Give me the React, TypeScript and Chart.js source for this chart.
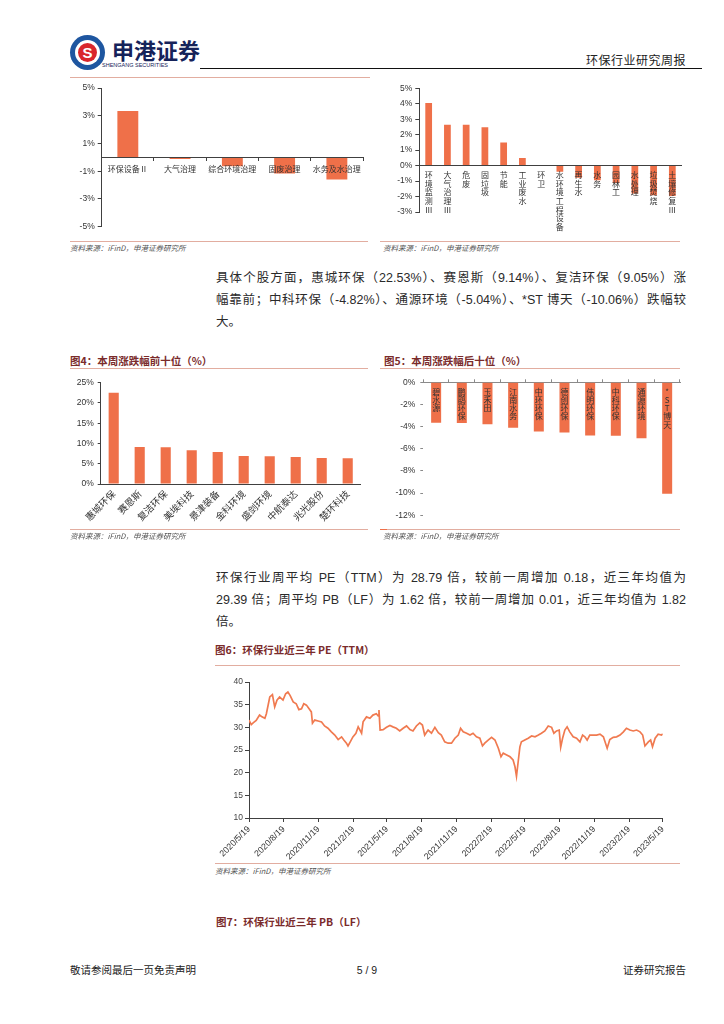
import React, { useEffect, useRef } from 'react';
import { Chart, registerables } from 'chart.js';

Chart.register(...registerables);

// ---------- data ----------
const A_LABELS = ['环保设备Ⅱ', '大气治理', '综合环境治理', '固废治理', '水务及水治理'];
const A_VALUES = [3.35, -0.12, -0.65, -1.17, -1.6];

const B_LABELS = ['环境监测Ⅲ', '大气治理Ⅲ', '危废', '固垃圾', '节能', '工业废水', '环卫', '水环境工程设备', '再生水', '水务', '园林工', '水处理', '垃圾焚烧', '土壤修复Ⅲ'];
const B_VALUES = [4.05, 2.65, 2.65, 2.48, 1.5, 0.5, 0, -0.39, -0.78, -0.95, -1.12, -1.8, -1.92, -1.96];

const C_LABELS = ['惠城环保', '赛恩斯', '复洁环保', '美埃科技', '景津装备', '金科环境', '盛剑环境', '中航泰达', '兆光股份', '楚环科技'];
const C_VALUES = [22.53, 9.14, 9.05, 8.3, 7.9, 6.9, 6.85, 6.66, 6.41, 6.38];

const D_LABELS = ['碧水源', '鹏鹞环保', '玉禾田', '江南水务', '中环环保', '德创环保', '伟明环保', '中科环保', '通源环境', '*ST博天'];
const D_VALUES = [-3.64, -3.67, -3.79, -4.09, -4.45, -4.52, -4.79, -4.82, -5.04, -10.06];

const PE_START = '2020/5/19';
const PE_TICK_LABELS = ['2020/5/19', '2020/8/19', '2020/11/19', '2021/2/19', '2021/5/19', '2021/8/19', '2021/11/19', '2022/2/19', '2022/5/19', '2022/8/19', '2022/11/19', '2023/2/19', '2023/5/19'];
// days since 2020/5/19
const PE_DAYS = [0, 6, 11, 19, 28, 33, 42, 46, 55, 62, 68, 74, 81, 90, 97, 103, 109, 117, 125, 132, 139, 145, 152, 159, 165, 168, 174, 183, 192, 200, 209, 218, 227, 236, 245, 251, 258, 262, 268, 275, 283, 289, 293, 298, 302, 311, 320, 328, 337, 342, 344, 347, 355, 364, 373, 381, 390, 399, 408, 417, 426, 434, 443, 452, 459, 465, 474, 483, 492, 501, 509, 518, 527, 536, 545, 554, 560, 567, 576, 585, 593, 602, 611, 618, 624, 633, 642, 651, 660, 667, 673, 682, 691, 699, 704, 708, 713, 717, 721, 730, 739, 748, 757, 766, 774, 783, 792, 801, 807, 814, 821, 825, 830, 836, 842, 849, 858, 867, 876, 883, 889, 895, 902, 911, 920, 929, 938, 948, 955, 964, 973, 982, 991, 999, 1008, 1017, 1026, 1035, 1042, 1048, 1057, 1063, 1068, 1075, 1083, 1092, 1095];
const PE_VALUES = [31.6, 30.6, 31.0, 31.5, 32.7, 32.4, 32.0, 33.0, 36.7, 37.2, 34.5, 36.0, 36.7, 36.0, 37.4, 37.8, 37.0, 35.6, 35.2, 33.9, 34.1, 35.2, 34.9, 34.1, 33.4, 30.9, 31.6, 31.4, 31.2, 30.3, 29.8, 29.0, 28.3, 27.3, 27.9, 27.2, 26.5, 25.9, 26.8, 27.9, 28.7, 30.1, 29.5, 28.7, 31.2, 32.3, 32.0, 32.7, 33.0, 32.5, 33.8, 29.4, 29.5, 30.0, 30.4, 30.1, 29.8, 29.2, 29.8, 30.3, 29.5, 29.2, 30.3, 31.0, 30.5, 28.3, 29.4, 28.7, 30.0, 28.8, 28.3, 26.8, 26.5, 26.5, 27.6, 28.3, 29.8, 29.0, 28.7, 28.3, 28.7, 27.9, 27.6, 25.9, 26.5, 27.2, 27.8, 27.2, 25.4, 23.5, 24.3, 23.9, 23.5, 22.8, 21.3, 19.2, 22.8, 25.7, 26.8, 27.2, 27.6, 28.1, 27.9, 28.3, 28.7, 29.2, 30.3, 30.0, 28.7, 29.2, 29.4, 25.6, 27.6, 29.4, 30.1, 29.0, 27.9, 27.6, 26.8, 28.3, 27.9, 27.2, 28.3, 28.3, 28.3, 28.5, 27.9, 25.4, 27.3, 27.8, 27.9, 28.3, 29.0, 29.8, 29.4, 29.2, 29.4, 29.0, 28.3, 25.9, 26.8, 27.2, 25.7, 27.6, 28.5, 28.3, 28.6];

// ---------- styles ----------
const LAT = "'Liberation Sans', 'Noto Sans CJK SC', sans-serif";
const CJK = "'Noto Sans CJK SC', 'Liberation Sans', sans-serif";
const BAR = '#EF7049';
const LINE = '#F07A50';
const AXIS = '#404040';
const TXT = '#333333';
const PINK = '#E2ADA0';
const MAROON = '#7A2B2B';

const fit = (w?: number, h?: number) => (s: any) => {
  if (w !== undefined) s.width = w;
  if (h !== undefined) s.height = h;
  s.paddingLeft = 0;
  s.paddingRight = 0;
  s.paddingTop = 0;
  s.paddingBottom = 0;
};

const dayOf = (d: string) => {
  const [y, m, dd] = d.split('/').map(Number);
  const [y0, m0, d0] = PE_START.split('/').map(Number);
  return Math.round((Date.UTC(y, m - 1, dd) - Date.UTC(y0, m0 - 1, d0)) / 86400000);
};

const base = (padding: any) => ({
  animation: false,
  responsive: false,
  layout: { padding },
  plugins: { legend: { display: false }, tooltip: { enabled: false } },
});

const cfgA = (): any => ({
  type: 'bar',
  data: { labels: A_LABELS, datasets: [{ data: A_VALUES, backgroundColor: BAR, barPercentage: 0.4, categoryPercentage: 1 }] },
  options: {
    ...base({ left: 0, top: 8, right: 17, bottom: 13.3 }),
    scales: {
      x: {
        position: { y: 0 },
        grid: { drawOnChartArea: false, tickLength: 3, color: AXIS, offset: true, z: 1 },
        border: { color: AXIS, z: 1 },
        ticks: { z: 1, font: { family: CJK, size: 8 }, color: TXT, padding: 4, maxRotation: 0, autoSkip: false },
        afterFit: fit(),
      },
      y: {
        min: -5, max: 5,
        ticks: { stepSize: 2, callback: (v: number) => v + '%', font: { family: LAT, size: 8.5 }, color: TXT, padding: 3 },
        grid: { drawOnChartArea: false, tickLength: 4, color: AXIS },
        border: { color: AXIS },
        afterFit: fit(41.7),
      },
    },
  },
});

const cfgB = (): any => ({
  type: 'bar',
  data: { labels: B_LABELS, datasets: [{ data: B_VALUES, backgroundColor: BAR, barPercentage: 0.36, categoryPercentage: 1 }] },
  options: {
    ...base({ left: 0, top: 8.3, right: 18.3, bottom: 28 }),
    scales: {
      x: {
        position: { y: 0 },
        grid: { display: false, drawTicks: false },
        border: { color: AXIS, z: 1 },
        ticks: {
          z: 1,
          callback: (_v: any, i: number) => Array.from(B_LABELS[i]),
          font: { family: CJK, size: 8, lineHeight: 1.08 }, color: TXT, padding: 5, maxRotation: 0, autoSkip: false,
        },
        afterFit: fit(),
      },
      y: {
        min: -3, max: 5,
        ticks: { stepSize: 1, callback: (v: number) => v + '%', font: { family: LAT, size: 8.5 }, color: TXT, padding: 3 },
        grid: { drawOnChartArea: false, tickLength: 4, color: AXIS },
        border: { color: AXIS },
        afterFit: fit(39.3),
      },
    },
  },
});

const cfgC = (): any => ({
  type: 'bar',
  data: { labels: C_LABELS, datasets: [{ data: C_VALUES, backgroundColor: BAR, barPercentage: 0.39, categoryPercentage: 1 }] },
  options: {
    ...base({ left: 0, top: 7.7, right: 19.3, bottom: 0 }),
    scales: {
      x: {
        grid: { drawOnChartArea: false, drawTicks: false, color: AXIS },
        border: { color: AXIS },
        ticks: { font: { family: CJK, size: 9.5 }, color: TXT, padding: 4, minRotation: 45, maxRotation: 45, autoSkip: false },
        afterFit: fit(undefined, 46),
      },
      y: {
        min: 0, max: 25,
        ticks: { stepSize: 5, callback: (v: number) => v + '%', font: { family: LAT, size: 8.5 }, color: TXT, padding: 4 },
        grid: { drawOnChartArea: false, tickLength: 3, color: AXIS },
        border: { color: AXIS },
        afterFit: fit(40.7),
      },
    },
  },
});

const cfgD = (): any => ({
  type: 'bar',
  data: { labels: D_LABELS, datasets: [{ data: D_VALUES, backgroundColor: BAR, barPercentage: 0.39, categoryPercentage: 1 }] },
  options: {
    ...base({ left: 0, top: 4.3, right: 20, bottom: 9.7 }),
    scales: {
      x: {
        position: 'top',
        grid: { drawOnChartArea: false, tickLength: 3, color: '#8a8a8a', offset: true },
        border: { color: '#8a8a8a' },
        ticks: { display: false },
        afterFit: fit(undefined, 3),
      },
      x2: {
        type: 'category', axis: 'x', labels: D_LABELS, offset: true,
        position: { y: 0 },
        grid: { display: false, drawTicks: false },
        border: { display: false },
        ticks: {
          z: 1,
          callback: (_v: any, i: number) => Array.from(D_LABELS[i]),
          font: { family: CJK, size: 8, lineHeight: 1.04 }, color: TXT, padding: 5, maxRotation: 0, autoSkip: false,
        },
        afterFit: fit(),
      },
      y: {
        min: -12, max: 0,
        ticks: { stepSize: 2, callback: (v: number) => v + '%', font: { family: LAT, size: 8.5 }, color: TXT, padding: 5 },
        grid: { drawOnChartArea: false, tickLength: 3, color: '#8a8a8a' },
        border: { display: false },
        afterFit: fit(43.3),
      },
    },
  },
});

const cfgE = (): any => {
  const tickDays = PE_TICK_LABELS.map(dayOf);
  return {
    type: 'line',
    data: {
      datasets: [{
        data: PE_DAYS.map((d, i) => ({ x: d, y: PE_VALUES[i] })),
        borderColor: LINE, borderWidth: 1.7, pointRadius: 0, tension: 0, fill: false,
      }],
    },
    options: {
      ...base({ left: 0, top: 10, right: 17.3, bottom: 0 }),
      scales: {
        x: {
          type: 'linear', min: 0, max: tickDays[tickDays.length - 1],
          afterBuildTicks: (s: any) => { s.ticks = tickDays.map((v) => ({ value: v })); },
          grid: { drawOnChartArea: false, tickLength: 4, color: AXIS },
          border: { color: AXIS },
          ticks: {
            callback: (_v: any, i: number) => PE_TICK_LABELS[i],
            font: { family: LAT, size: 8.8 }, color: TXT, padding: 2, minRotation: 45, maxRotation: 45, autoSkip: false,
          },
          afterFit: fit(undefined, 44),
        },
        y: {
          min: 10, max: 40,
          ticks: { stepSize: 5, font: { family: LAT, size: 8.5 }, color: '#444', padding: 2 },
          grid: { drawOnChartArea: false, tickLength: 4, color: AXIS },
          border: { color: AXIS },
          afterFit: fit(49),
        },
      },
    },
  };
};

// ---------- components ----------
function ChartBox({ left, top, width, height, make }: { left: number; top: number; width: number; height: number; make: () => any }) {
  const ref = useRef<HTMLCanvasElement>(null);
  useEffect(() => {
    const c = new Chart(ref.current as HTMLCanvasElement, make());
    return () => c.destroy();
  }, []);
  return <canvas ref={ref} width={width} height={height} style={{ position: 'absolute', left, top, width, height }} />;
}

function T({ x, y, size, children, color = '#222', bold = false, italic = false, align = 'left', w, family = LAT, ls = 0 }: any) {
  const style: any = {
    position: 'absolute', top: y - size * 0.6, fontSize: size, lineHeight: `${size * 1.2}px`, color,
    fontWeight: bold ? 'bold' : 'normal', fontStyle: italic ? 'italic' : 'normal', fontFamily: family,
    whiteSpace: 'nowrap', letterSpacing: ls,
  };
  if (align === 'right') { style.right = 724 - x; }
  else if (align === 'center') { style.left = x - 100; style.width = 200; style.textAlign = 'center'; }
  else { style.left = x; }
  if (w) { style.width = w; style.textAlign = 'justify'; style.textAlignLast = 'justify'; }
  return <div style={style}>{children}</div>;
}

function HLine({ x1, x2, y, color = PINK, h = 1 }: any) {
  return <div style={{ position: 'absolute', left: x1, top: y, width: x2 - x1, height: h, background: color }} />;
}

const Source = ({ x, y }: any) => (
  <T x={x} y={y} size={7.5} color="#555" italic family={CJK}>资料来源：iFinD，申港证券研究所</T>
);

export default function App() {
  return (
    <div style={{ position: 'absolute', left: 0, top: 0, width: 724, height: 1024, background: '#fff', fontFamily: LAT, overflow: 'hidden' }}>
      {/* header */}
      <div style={{ position: 'absolute', left: 70, top: 35, width: 35, height: 35, borderRadius: '50%', background: '#1E56A0' }} />
      <div style={{ position: 'absolute', left: 75, top: 40, width: 25, height: 25, borderRadius: '50%', background: '#fff' }} />
      <div style={{ position: 'absolute', left: 78, top: 43, width: 19, height: 19, borderRadius: '50%', background: '#D9262C', color: '#fff', fontWeight: 'bold', fontSize: 15, lineHeight: '19px', textAlign: 'center', fontFamily: LAT }}>S</div>
      <T x={112} y={49} size={22} bold color="#16235a" family={CJK}>申港证券</T>
      <T x={102} y={65} size={5.5} color="#16235a" family={LAT}>SHENGANG SECURITIES</T>
      <T x={686} y={60} size={12} align="right" color="#222" family={CJK} ls={0.5}>环保行业研究周报</T>
      <HLine x1={200} x2={702} y={68} color="#111" />
      <HLine x1={70} x2={370} y={77} />

      {/* top charts */}
      <ChartBox left={60} top={80} width={320} height={160} make={cfgA} />
      <ChartBox left={380} top={80} width={320} height={160} make={cfgB} />
      <HLine x1={70} x2={368} y={241} />
      <HLine x1={380} x2={680} y={241} />
      <Source x={70} y={247} />
      <Source x={383} y={247} />

      {/* paragraph 1 */}
      <T x={216} y={278} size={12.5} w={470} color="#2a2a2a">具体个股方面，惠城环保（22.53%）、赛恩斯（9.14%）、复洁环保（9.05%）涨</T>
      <T x={216} y={300} size={12.5} w={470} color="#2a2a2a">幅靠前；中科环保（-4.82%）、通源环境（-5.04%）、*ST 博天（-10.06%）跌幅较</T>
      <T x={216} y={322} size={12.5} color="#2a2a2a">大。</T>

      {/* fig 4 / 5 */}
      <T x={70} y={361} size={10.5} bold color={MAROON} family={CJK}>图4：本周涨跌幅前十位（%）</T>
      <T x={384} y={361} size={10.5} bold color={MAROON} family={CJK}>图5：本周涨跌幅后十位（%）</T>
      <HLine x1={70} x2={368} y={368} />
      <HLine x1={380} x2={680} y={368} />
      <ChartBox left={60} top={375} width={320} height={155} make={cfgC} />
      <ChartBox left={380} top={375} width={320} height={150} make={cfgD} />
      <HLine x1={70} x2={368} y={529} />
      <HLine x1={380} x2={680} y={529} />
      <HLine x1={380} x2={387} y={529} color={BAR} />
      <Source x={70} y={535} />
      <Source x={383} y={535} />

      {/* paragraph 2 */}
      <T x={216} y={578} size={12.5} w={470} color="#2a2a2a">环保行业周平均 PE（TTM）为 28.79 倍，较前一周增加 0.18，近三年均值为</T>
      <T x={216} y={600} size={12.5} w={470} color="#2a2a2a">29.39 倍；周平均 PB（LF）为 1.62 倍，较前一周增加 0.01，近三年均值为 1.82</T>
      <T x={216} y={622} size={12.5} color="#2a2a2a">倍。</T>

      {/* fig 6 */}
      <T x={215} y={650} size={10.5} bold color={MAROON} family={CJK}>图6：环保行业近三年 PE（TTM）</T>
      <HLine x1={215} x2={680} y={665} />
      <ChartBox left={200} top={672} width={480} height={190} make={cfgE} />
      <HLine x1={215} x2={680} y={863} />
      <Source x={215} y={870} />

      {/* fig 7 */}
      <T x={216} y={922} size={10.5} bold color={MAROON} family={CJK}>图7：环保行业近三年 PB（LF）</T>

      {/* footer */}
      <T x={70} y={970} size={10.5} color="#222" family={CJK}>敬请参阅最后一页免责声明</T>
      <T x={367} y={970} size={10.5} align="center" color="#222">5 / 9</T>
      <T x={686} y={970} size={10.5} align="right" color="#222" family={CJK}>证券研究报告</T>
    </div>
  );
}
